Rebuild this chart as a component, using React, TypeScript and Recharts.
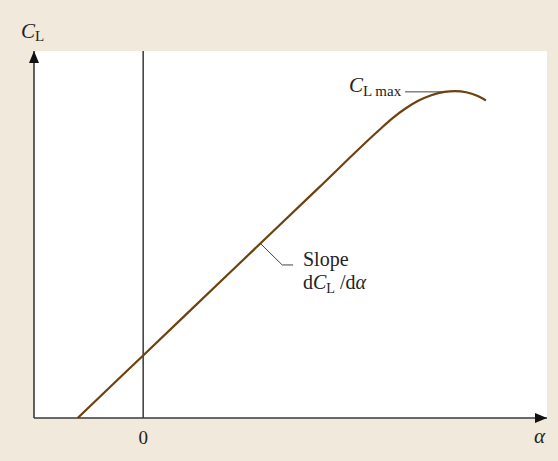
import { LineChart, Line, XAxis, YAxis, CartesianGrid, ReferenceLine } from 'recharts'

// lift curve: angle of attack vs lift coefficient
const alpha = [-3, 0, 4, 8, 10.8, 11.4, 12.0, 12.6, 13.2, 13.8, 14.3, 14.8, 15.3, 15.7]
const liftCoef = [0, 0.3, 0.7, 1.1, 1.38, 1.436, 1.483, 1.521, 1.548, 1.564, 1.568, 1.562, 1.545, 1.523]
const alphaTicks = [0]

// leader lines for the annotations (data coordinates)
const clMaxLeader = [{ x: 12.0, y: 1.564 }, { x: 13.85, y: 1.564 }]
const slopeLeader = [{ x: 5.36, y: 0.838 }, { x: 6.37, y: 0.734 }]
const slopeLeaderTail = [{ x: 6.37, y: 0.734 }, { x: 6.87, y: 0.734 }]

const data = alpha.map((a, i) => ({ alpha: a, cl: liftCoef[i] }))

const serif = '"Liberation Serif", "Times New Roman", serif'
const axisColor = '#3a3a3a'
const curveColor = '#6e410f'

const App = () => {
  return (
    <div style={{ position: 'absolute', left: 0, top: 0, width: 558, height: 461, background: '#f2e9dd' }}>
      <svg width={0} height={0} style={{ position: 'absolute' }}>
        <defs>
          <marker
            id="axisArrow"
            viewBox="0 0 12 10"
            refX={12}
            refY={5}
            markerWidth={12}
            markerHeight={10}
            markerUnits="userSpaceOnUse"
            orient="auto-start-reverse"
          >
            <path d="M0,0 L12,5 L0,10 Z" fill="#111" />
          </marker>
        </defs>
      </svg>
      <LineChart width={558} height={461} data={data} margin={{ top: 51, right: 11, bottom: 13, left: 33 }}>
        <CartesianGrid fill="#ffffff" horizontal={false} vertical={false} />
        <XAxis
          dataKey="alpha"
          type="number"
          domain={[-5, 18.5]}
          allowDataOverflow
          ticks={alphaTicks}
          height={30}
          tickLine={false}
          tickSize={0}
          tickMargin={13}
          tick={{ fill: '#222', fontSize: 19, fontFamily: serif }}
          axisLine={{ stroke: axisColor, strokeWidth: 1.6, markerEnd: 'url(#axisArrow)' }}
        />
        <YAxis
          type="number"
          domain={[0, 1.76]}
          allowDataOverflow
          width={1}
          tick={false}
          tickLine={false}
          axisLine={{ stroke: axisColor, strokeWidth: 1.6, markerStart: 'url(#axisArrow)' }}
        />
        <ReferenceLine x={0} stroke="#1a1a1a" strokeWidth={1.3} />
        <ReferenceLine segment={clMaxLeader} stroke="#444" strokeWidth={1} />
        <ReferenceLine segment={slopeLeader} stroke="#444" strokeWidth={1} />
        <ReferenceLine segment={slopeLeaderTail} stroke="#444" strokeWidth={1} />
        <Line
          type="monotone"
          dataKey="cl"
          stroke={curveColor}
          strokeWidth={2.2}
          dot={false}
          activeDot={false}
          isAnimationActive={false}
        />
        <text x={21} y={38} fontFamily={serif} fontSize={21} fill="#222">
          <tspan fontStyle="italic">C</tspan>
          <tspan fontSize={15} dy={3}>L</tspan>
        </text>
        <text x={349} y={92} fontFamily={serif} fontSize={21} fill="#222">
          <tspan fontStyle="italic">C</tspan>
          <tspan fontSize={15} dy={4}>L max</tspan>
        </text>
        <text x={303} y={266} fontFamily={serif} fontSize={20} fill="#222">Slope</text>
        <text x={303} y={289} fontFamily={serif} fontSize={20} fill="#222">
          <tspan>d</tspan>
          <tspan fontStyle="italic">C</tspan>
          <tspan fontSize={14} dy={4}>L</tspan>
          <tspan dy={-4}> /d</tspan>
          <tspan fontStyle="italic">α</tspan>
        </text>
        <text x={534} y={443} fontFamily={serif} fontSize={21} fontStyle="italic" fill="#222">α</text>
      </LineChart>
    </div>
  )
}

export default App
